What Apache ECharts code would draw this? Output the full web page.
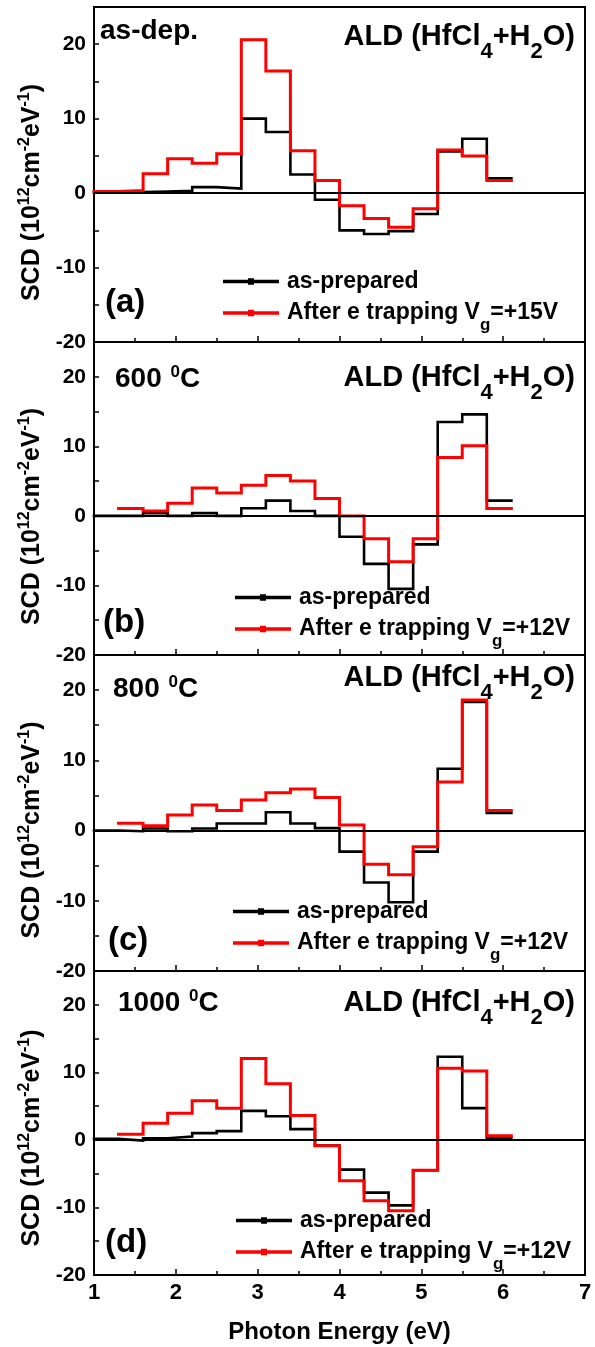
<!DOCTYPE html>
<html>
<head>
<meta charset="utf-8">
<script src="https://cdn.jsdelivr.net/npm/echarts@6/dist/echarts.min.js"></script>
<style>
    html, body { margin: 0; padding: 0; background: #fff; }
    #chart { width: 595px; height: 1347px; }
</style>
</head>
<body>
<div id="chart"></div>
<script>
// bin edges (eV), every bin is 0.3 eV wide
const binEdges = [1.0, 1.3, 1.6, 1.9, 2.2, 2.5, 2.8, 3.1, 3.4, 3.7, 4.0, 4.3, 4.6, 4.9, 5.2, 5.5, 5.8, 6.1];

// SCD per bin (10^12 cm^-2 eV^-1), null = no value in that bin
const asDepPrepared = [0.1, 0.15, 0.2, 0.3, 0.8, 0.6, 10.0, 8.2, 2.5, -0.9, -5.0, -5.5, -5.1, -2.8, 5.6, 7.3, 2.0];
const asDepTrapped = [0.2, 0.35, 2.6, 4.6, 4.0, 5.3, 20.6, 16.4, 5.7, 1.7, -1.7, -3.4, -4.6, -2.1, 5.8, 5.0, 1.7];
const t600Prepared = [0.0, 0.0, 0.4, 0.0, 0.4, 0.0, 1.1, 2.2, 0.7, 0.0, -3.0, -6.9, -10.5, -4.1, 13.5, 14.6, 2.2];
const t600Trapped = [null, 1.05, 0.7, 1.8, 4.0, 3.3, 4.4, 5.8, 5.0, 2.5, 0.0, -3.3, -6.6, -3.3, 8.4, 10.1, 1.05];
const t800Prepared = [0.0, -0.1, 0.3, -0.1, 0.3, 1.0, 1.0, 2.6, 1.0, 0.35, -3.0, -7.4, -10.2, -3.0, 8.8, 18.3, 2.5];
const t800Trapped = [null, 1.05, 0.7, 2.2, 3.65, 2.85, 4.35, 5.4, 5.9, 4.7, 0.8, -4.8, -6.3, -2.3, 6.9, 18.6, 2.85];
const t1000Prepared = [0.15, -0.1, 0.25, 0.5, 1.0, 1.3, 4.3, 3.5, 1.6, -0.85, -4.4, -7.8, -9.7, -4.5, 12.3, 4.7, 0.25];
const t1000Trapped = [null, 0.85, 2.45, 3.95, 5.8, 4.7, 12.05, 8.3, 3.6, -0.85, -6.05, -9.0, -10.5, -4.5, 10.6, 10.2, 0.6];

const panelTitles = ['as-dep.', '600 {sup|0}{t|C}', '800 {sup|0}{t|C}', '1000 {sup|0}{t|C}'];
const panelLetters = ['(a)', '(b)', '(c)', '(d)'];
const trapVoltages = ['+15V', '+12V', '+12V', '+12V'];
const preparedName = 'as-prepared';

const panelData = [
    [asDepPrepared, asDepTrapped],
    [t600Prepared, t600Trapped],
    [t800Prepared, t800Trapped],
    [t1000Prepared, t1000Trapped]
];

// layout (px)
const FONT = '"Liberation Sans", Arial, Helvetica, sans-serif';
const PANEL_BOX = [
    { top: 7, height: 335 },
    { top: 342, height: 313 },
    { top: 655, height: 316 },
    { top: 971, height: 304 }
];
const TITLE_POS = [{ x: 100, y: 30 }, { x: 115, y: 378 }, { x: 113, y: 688 }, { x: 118, y: 1002 }];
const ALD_Y = [36, 377, 677, 1002];
const LETTER_POS = [{ x: 105, y: 303 }, { x: 103, y: 623 }, { x: 108, y: 941 }, { x: 105, y: 1243 }];
const LEGEND_POS = [{ x: 223, y: 283 }, { x: 235, y: 599 }, { x: 233, y: 913 }, { x: 236, y: 1222 }];
const YNAME_SHIFT = [18, 18, 17, 15]; // label is centred on y = 0, not on the panel

// hold each bin value from its left edge to the next one
function toSteps(values) {
    const pts = values.map((v, i) => [binEdges[i], v]);
    pts.push([binEdges[binEdges.length - 1], values[values.length - 1]]);
    return pts.filter(p => p[1] !== null);
}

const boldToken = (size, lh, extra) => Object.assign({
    fontSize: size, fontWeight: 'bold', fontFamily: FONT, color: '#000', fill: '#000',
    lineHeight: lh, verticalAlign: 'middle'
}, extra || {});

const LEGEND_ICON = 'path://M0,4.5H56V8H0Z M25,3H31V9.5H25Z';

const zeroLine = {
    silent: true,
    symbol: 'none',
    label: { show: false },
    lineStyle: { color: '#000', width: 1.8, type: 'solid' },
    data: [{ yAxis: 0 }],
    animation: false
};

const grids = [];
const xAxes = [];
const yAxes = [];
const series = [];
const legends = [];
const texts = [];

PANEL_BOX.forEach((box, i) => {
    const trappedName = 'After e trapping V_g=' + trapVoltages[i];
    grids.push({
        left: 94, right: 10, top: box.top, height: box.height,
        show: true, borderColor: '#000', borderWidth: 2, backgroundColor: 'transparent'
    });
    xAxes.push({
        gridIndex: i,
        type: 'value',
        min: 1, max: 7, interval: 1,
        axisLine: { onZero: false, lineStyle: { color: '#000', width: 2 } },
        axisTick: { inside: true, length: 6, lineStyle: { color: '#000', width: 1.5 } },
        minorTick: { show: true, splitNumber: 2, length: 4, lineStyle: { color: '#000', width: 1.5 } },
        splitLine: { show: false },
        axisLabel: {
            show: i === 3, margin: 7, color: '#000',
            fontSize: 22, fontWeight: 'bold', fontFamily: FONT
        },
        name: i === 3 ? 'Photon Energy (eV)' : '',
        nameLocation: 'middle',
        nameGap: 45,
        nameTextStyle: { fontSize: 24, fontWeight: 'bold', fontFamily: FONT, color: '#000' }
    });
    yAxes.push({
        gridIndex: i,
        type: 'value',
        min: -20, max: 25, interval: 5,
        axisLine: { onZero: false, lineStyle: { color: '#000', width: 2 } },
        axisTick: { inside: true, length: 5, lineStyle: { color: '#000', width: 1.5 } },
        splitLine: { show: false },
        axisLabel: {
            margin: 8, color: '#000', fontSize: 21, fontWeight: 'bold', fontFamily: FONT,
            formatter: v => (v % 10 === 0 && v < 25) ? String(v) : ''
        },
        name: '{t|SCD (10}{sup|12}{t|cm}{sup|-2}{t|eV}{sup|-1}{t|)}',
        nameLocation: 'middle',
        nameRotate: 90,
        nameGap: 47,
        nameTextStyle: {
            padding: [0, YNAME_SHIFT[i] * 2, 0, 0],
            rich: {
                t: boldToken(25, 30),
                sup: boldToken(16, 30, { verticalAlign: 'top' })
            }
        }
    });

    const [prepared, trapped] = panelData[i];
    series.push({
        type: 'line',
        name: preparedName,
        xAxisIndex: i, yAxisIndex: i,
        data: toSteps(prepared),
        step: 'end',
        showSymbol: false,
        symbol: 'rect',
        color: '#000',
        lineStyle: { color: '#000', width: 2.6, cap: 'square', join: 'miter' },
        z: 2,
        markLine: zeroLine
    });
    series.push({
        type: 'line',
        name: trappedName,
        xAxisIndex: i, yAxisIndex: i,
        data: toSteps(trapped),
        step: 'end',
        showSymbol: false,
        symbol: 'rect',
        color: '#ff0000',
        lineStyle: { color: '#ff0000', width: 3, cap: 'square', join: 'miter' },
        z: 3
    });

    // two legend rows, one legend each so the rows sit exactly
    const legendRich = {
        m: boldToken(23, 26),
        s: boldToken(17, 26, { verticalAlign: 'top', padding: [17, 0, 0, 0] })
    };
    [preparedName, trappedName].forEach((name, k) => {
        legends.push({
            data: [name],
            left: LEGEND_POS[i].x,
            top: LEGEND_POS[i].y + k * 30 - 13,
            padding: 0,
            icon: LEGEND_ICON,
            itemWidth: 56,
            itemHeight: 6.5,
            itemGap: 0,
            selectedMode: false,
            textStyle: { rich: legendRich, padding: [0, 0, 0, 3] },
            formatter: n => n.indexOf('_g') >= 0
                ? '{m|' + n.replace('_g', '}{s|g}{m|') + '}'
                : '{m|' + n + '}'
        });
    });

    // panel texts
    texts.push({
        type: 'text', x: TITLE_POS[i].x, y: TITLE_POS[i].y + 1, z: 100,
        style: {
            text: i === 0 ? '{t|' + panelTitles[i] + '}' : '{t|' + panelTitles[i].replace(' {sup', '}{t| }{sup'),
            rich: {
                t: boldToken(28, 32),
                sup: boldToken(17, 32, { verticalAlign: 'top', padding: [1, 0, 0, 1] })
            },
            textAlign: 'left', textVerticalAlign: 'middle', verticalAlign: 'middle'
        }
    });
    texts.push({
        type: 'text', x: 575, y: ALD_Y[i] + 1, z: 100,
        style: {
            text: '{t|ALD (HfCl}{sub|4}{t|+H}{sub|2}{t|O)}',
            rich: {
                t: boldToken(29, 34),
                sub: boldToken(22, 34, { verticalAlign: 'top', padding: [21, 0, 0, 0] })
            },
            textAlign: 'right', textVerticalAlign: 'middle', verticalAlign: 'middle'
        }
    });
    texts.push({
        type: 'text', x: LETTER_POS[i].x, y: LETTER_POS[i].y, z: 100,
        style: {
            text: panelLetters[i],
            font: 'bold 33px ' + FONT,
            fill: '#000',
            textAlign: 'left', textVerticalAlign: 'middle', verticalAlign: 'middle'
        }
    });
});

const chart = echarts.init(document.getElementById('chart'), null, { renderer: 'canvas' });
chart.setOption({
    animation: false,
    backgroundColor: '#fff',
    grid: grids,
    xAxis: xAxes,
    yAxis: yAxes,
    legend: legends,
    series: series,
    graphic: texts
});
</script>
</body>
</html>
